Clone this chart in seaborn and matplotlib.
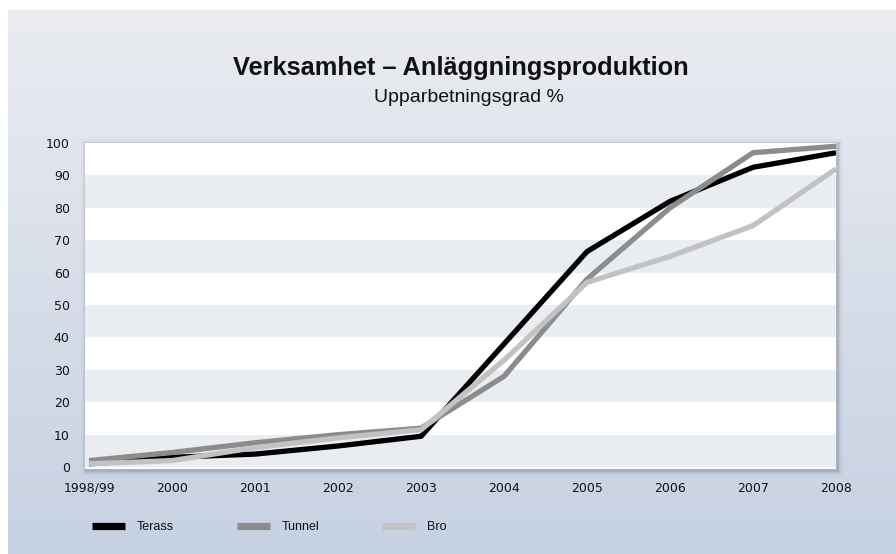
import numpy as np
import pandas as pd
import matplotlib
matplotlib.use("Agg")
import matplotlib.pyplot as plt
from matplotlib.patches import Rectangle
from matplotlib.lines import Line2D
import seaborn as sns

# ---- data ----
years = ["1998/99", "2000", "2001", "2002", "2003", "2004", "2005", "2006", "2007", "2008"]
terass = [1, 3, 4, 6.5, 9.5, 38, 66.5, 82, 92.5, 97]
tunnel = [2, 4.5, 7.5, 10, 12, 28, 58, 80, 97, 99]
bro = [1, 2, 6, 9, 11.5, 33, 57, 65, 74.5, 92]
series_names = ["Terass", "Tunnel", "Bro"]
series_colors = ["#000000", "#8c8c8c", "#c2c2c2"]
y_ticks = [0, 10, 20, 30, 40, 50, 60, 70, 80, 90, 100]
title = "Verksamhet \u2013 Anläggningsproduktion"
subtitle = "Upparbetningsgrad %"

df = pd.DataFrame({
    "x": list(range(len(years))) * 3,
    "value": terass + tunnel + bro,
    "serie": [series_names[0]] * len(years) + [series_names[1]] * len(years) + [series_names[2]] * len(years),
})

sns.set_theme(style="white")
plt.rcParams["font.family"] = ["DejaVu Sans"]

W, H = 896, 554
fig = plt.figure(figsize=(W / 100, H / 100), dpi=100)
fig.patch.set_facecolor("white")

# background gradient panel
bg = fig.add_axes([8 / W, 0, 1 - 8 / W, 1 - 10 / H], zorder=0)
top = np.array([0.918, 0.925, 0.945])
bot = np.array([0.776, 0.820, 0.886])
t = np.linspace(0, 1, 256)[:, None]
grad = (top[None, :] * (1 - t) + bot[None, :] * t)
grad = np.repeat(grad[:, None, :], 2, axis=1)
bg.imshow(grad, aspect="auto", extent=[0, 1, 0, 1], origin="upper")
bg.set_axis_off()

L, R, B, T = 85 / W, 836 / W, 1 - 469 / H, 1 - 143 / H

# drop shadow
for i, a in enumerate([0.12, 0.08, 0.05, 0.03]):
    d = (i + 1) * 1.3
    fig.patches.append(Rectangle(((85 - d + 1.5) / W, (1 - (469 + d + 1.5) / H)),
                                 (751 + 2 * d) / W, (326 + 2 * d) / H,
                                 transform=fig.transFigure, facecolor="#404a5a",
                                 edgecolor="none", alpha=a, zorder=1))

ax = fig.add_axes([L, B, R - L, T - B], zorder=2)
ax.set_facecolor("white")

# alternating bands
for k in range(0, 100, 20):
    ax.axhspan(k, k + 10, color="#e9edf2", zorder=0, lw=0)

sns.lineplot(data=df, x="x", y="value", hue="serie", hue_order=series_names,
             palette=series_colors, linewidth=3.8, ax=ax, legend=False, zorder=3)
for ln in ax.lines:
    ln.set_solid_joinstyle("miter")
    ln.set_solid_capstyle("butt")

ax.set_xlim(-0.05, len(years) - 1)
ax.set_ylim(-0.6, 100)
ax.set_xticks(range(len(years)))
ax.set_xticklabels(years)
ax.set_yticks(y_ticks)
ax.tick_params(axis="both", length=0, labelsize=9, colors="#111111")
ax.tick_params(axis="x", pad=9)
ax.tick_params(axis="y", pad=11)
ax.set_xlabel("")
ax.set_ylabel("")
for s in ax.spines.values():
    s.set_visible(False)
ax.grid(False)

fig.text(461 / W, 1 - 75 / H, title, ha="center", va="baseline",
         fontsize=18.3, fontweight="bold", family=["Liberation Sans", "DejaVu Sans"], color="#111111")
fig.text(469 / W, 1 - 102 / H, subtitle, ha="center", va="baseline",
         fontsize=14, family=["Liberation Sans", "DejaVu Sans"], color="#111111")

handles = [Line2D([0], [0], color=c, lw=5.2, solid_capstyle="butt") for c in series_colors]
leg = fig.legend(handles, series_names, loc="center left", bbox_to_anchor=(92 / W, 1 - 527 / H),
                 ncol=3, frameon=False, handlelength=2.64, handletextpad=0.96,
                 columnspacing=5.0, borderaxespad=0, borderpad=0,
                 prop={"family": ["Liberation Sans", "DejaVu Sans"], "size": 9})
for tx in leg.get_texts():
    tx.set_color("#111111")

fig.savefig("out.png", dpi=100)
